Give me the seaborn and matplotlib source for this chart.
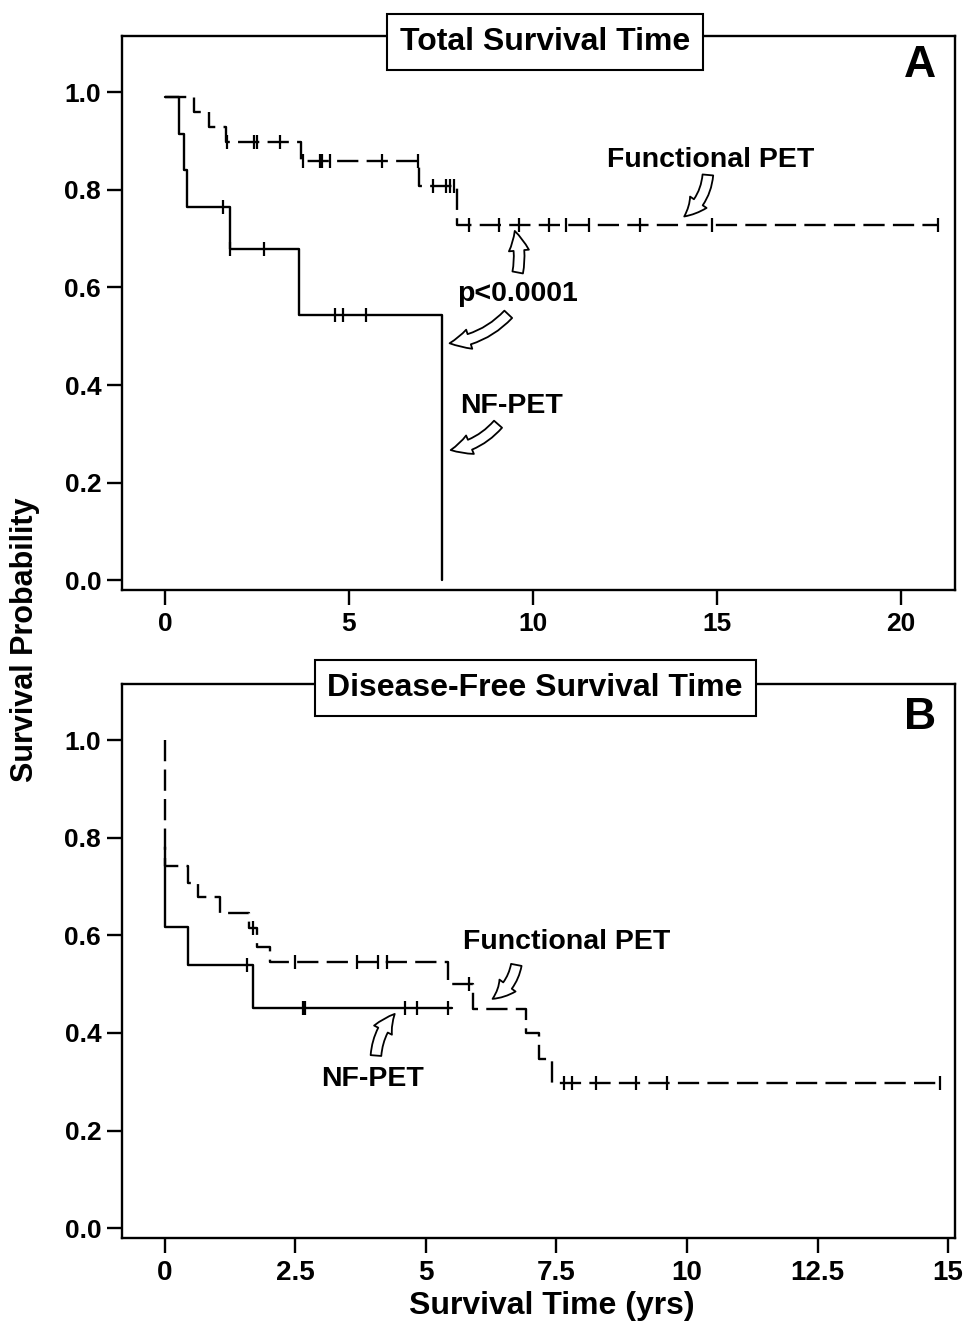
import pandas as pd
import matplotlib.pyplot as plt
from matplotlib.patches import FancyArrowPatch
import seaborn as sns

sns.set_style('ticks')
plt.rcParams['font.family'] = ['Liberation Sans', 'DejaVu Sans']
plt.rcParams['font.weight'] = 'bold'
plt.rcParams.update({'text.color': 'k', 'axes.labelcolor': 'k', 'axes.edgecolor': 'k',
                     'xtick.color': 'k', 'ytick.color': 'k'})
NARROW = ['Liberation Sans Narrow', 'Liberation Sans', 'DejaVu Sans']

# --- panel A: total survival (step points: time, survival) ---
a_nf_time = [0, 0.37, 0.52, 0.59, 1.76, 3.63, 7.53]
a_nf_surv = [0.99, 0.915, 0.84, 0.765, 0.678, 0.543, 0.0]
a_nf_cens_time = [1.58, 1.76, 2.68, 4.63, 4.85, 5.47]
a_nf_cens_surv = [0.765, 0.678, 0.678, 0.543, 0.543, 0.543]

a_fn_time = [0, 0.79, 1.2, 1.65, 3.70, 6.9, 7.93, 21.0]
a_fn_surv = [0.99, 0.96, 0.928, 0.897, 0.859, 0.807, 0.727, 0.727]
a_fn_cens_time = [1.69, 2.42, 2.50, 3.13,
                  3.75, 4.2, 4.27, 4.49, 5.9, 6.87,
                  7.27, 7.63, 7.75, 7.86,
                  8.27, 9.08, 9.62, 10.43, 10.89, 11.52, 12.92, 14.86, 21.0]
a_fn_cens_surv = [0.897] * 4 + [0.859] * 6 + [0.807] * 4 + [0.727] * 9

# --- panel B: disease-free survival ---
b_nf_time = [0, 0, 0.45, 1.69, 5.5]
b_nf_surv = [0.78, 0.617, 0.539, 0.452, 0.452]
b_nf_cens_time = [1.58, 2.64, 2.68, 4.6, 4.82, 5.43]
b_nf_cens_surv = [0.539, 0.452, 0.452, 0.452, 0.452, 0.452]

b_fn_time = [0, 0.01, 0.44, 0.63, 1.05, 1.61, 1.77, 2.01, 5.43, 5.91, 6.92, 7.17, 7.41, 14.85]
b_fn_surv = [1.0, 0.742, 0.708, 0.679, 0.646, 0.614, 0.576, 0.546, 0.501, 0.450, 0.40, 0.347, 0.297, 0.297]
b_fn_cens_time = [1.69, 2.49, 3.68, 4.09, 4.25, 5.83,
                  7.65, 7.80, 8.25, 9.02, 9.61, 14.85]
b_fn_cens_surv = [0.614, 0.546, 0.546, 0.546, 0.546, 0.501,
                  0.297, 0.297, 0.297, 0.297, 0.297, 0.297]

a_xticks = [0, 5, 10, 15, 20]
b_xticks = [0, 2.5, 5, 7.5, 10, 12.5, 15]
b_xticklabels = ['0', '2.5', '5', '7.5', '10', '12.5', '15']
yticks = [0.0, 0.2, 0.4, 0.6, 0.8, 1.0]


def make_df(nf_t, nf_s, fn_t, fn_s):
    return pd.concat([
        pd.DataFrame({'time': nf_t, 'surv': nf_s, 'group': 'NF-PET'}),
        pd.DataFrame({'time': fn_t, 'surv': fn_s, 'group': 'Functional PET'}),
    ], ignore_index=True)


def draw_panel(ax, curves, cens, xlim):
    sns.lineplot(data=curves, x='time', y='surv', style='group',
                 dashes={'NF-PET': '', 'Functional PET': (9, 3.5)},
                 color='k', lw=1.7, estimator=None, sort=False,
                 drawstyle='steps-post', legend=False, ax=ax)
    sns.scatterplot(data=cens, x='time', y='surv', marker='|', s=90,
                    color='k', linewidth=1.6, legend=False, ax=ax)
    ax.set_xlim(*xlim)
    ax.set_ylim(-0.02, 1.115)
    ax.set_yticks(yticks)
    ax.set_yticklabels([f'{v:.1f}' for v in yticks])
    ax.set_xlabel('')
    ax.set_ylabel('')
    for s in ax.spines.values():
        s.set_linewidth(1.7)
    ax.tick_params(length=11, width=1.7, labelsize=19)
    ax.tick_params(axis='x', pad=5)
    ax.tick_params(axis='y', pad=4)


def arrow(ax, tail, head, rad):
    ax.add_patch(FancyArrowPatch(tail, head, connectionstyle=f'arc3,rad={rad}',
                                 arrowstyle='simple,head_width=0.6,head_length=0.6,tail_width=0.32',
                                 mutation_scale=24, fc='white', ec='k', lw=1.3, zorder=5))


fig = plt.figure(figsize=(9.65, 13.28), dpi=100)
ax_a = fig.add_axes([0.1264, 0.5557, 0.8632, 0.4172])
ax_b = fig.add_axes([0.1264, 0.0678, 0.8632, 0.4172])

# --- panel A ---
draw_panel(ax_a, make_df(a_nf_time, a_nf_surv, a_fn_time, a_fn_surv),
           make_df(a_nf_cens_time, a_nf_cens_surv, a_fn_cens_time, a_fn_cens_surv),
           (-1.17, 21.47))
ax_a.set_xticks(a_xticks)
ax_a.set_xticklabels([str(v) for v in a_xticks])
ax_a.text(0.508, 0.989, 'Total Survival Time', transform=ax_a.transAxes,
          ha='center', va='center', fontsize=23, fontweight='bold', zorder=10,
          bbox=dict(boxstyle='square,pad=0.4', fc='white', ec='k', lw=1.5), clip_on=False)
ax_a.text(0.958, 0.946, 'A', transform=ax_a.transAxes, ha='center', va='center',
          fontsize=32, fontweight='bold')
ax_a.text(14.84, 0.861, 'Functional PET', ha='center', va='center', fontsize=20.5, fontweight='bold')
ax_a.text(9.57, 0.586, 'p<0.0001', ha='center', va='center', fontsize=20.5, fontweight='bold')
ax_a.text(9.43, 0.357, 'NF-PET', ha='center', va='center', fontsize=20.5, fontweight='bold')
arrow(ax_a, (14.76, 0.836), (14.05, 0.742), -0.25)
arrow(ax_a, (9.57, 0.625), (9.48, 0.721), 0.15)
arrow(ax_a, (9.38, 0.549), (7.66, 0.485), -0.2)
arrow(ax_a, (9.10, 0.324), (7.69, 0.266), -0.2)

# --- panel B ---
draw_panel(ax_b, make_df(b_nf_time, b_nf_surv, b_fn_time, b_fn_surv),
           make_df(b_nf_cens_time, b_nf_cens_surv, b_fn_cens_time, b_fn_cens_surv),
           (-0.82, 15.13))
ax_b.set_xticks(b_xticks)
ax_b.set_xticklabels(b_xticklabels, family=NARROW, fontsize=20)
ax_b.text(0.496, 0.993, 'Disease-Free Survival Time', transform=ax_b.transAxes,
          ha='center', va='center', fontsize=23, fontweight='bold', zorder=10,
          bbox=dict(boxstyle='square,pad=0.4', fc='white', ec='k', lw=1.5), clip_on=False)
ax_b.text(0.958, 0.940, 'B', transform=ax_b.transAxes, ha='center', va='center',
          fontsize=32, fontweight='bold')
ax_b.text(7.70, 0.586, 'Functional PET', ha='center', va='center', fontsize=20.5, fontweight='bold')
ax_b.text(3.98, 0.305, 'NF-PET', ha='center', va='center', fontsize=20.5, fontweight='bold')
arrow(ax_b, (6.74, 0.545), (6.23, 0.467), -0.25)
arrow(ax_b, (4.04, 0.348), (4.44, 0.443), -0.2)

fig.text(0.026, 0.518, 'Survival Probability', rotation=90, ha='center', va='center',
         fontsize=22, fontweight='bold')
fig.text(0.572, 0.0166, 'Survival Time (yrs)', ha='center', va='center',
         fontsize=23, fontweight='bold', family=NARROW)

fig.savefig('out.png', dpi=100)
